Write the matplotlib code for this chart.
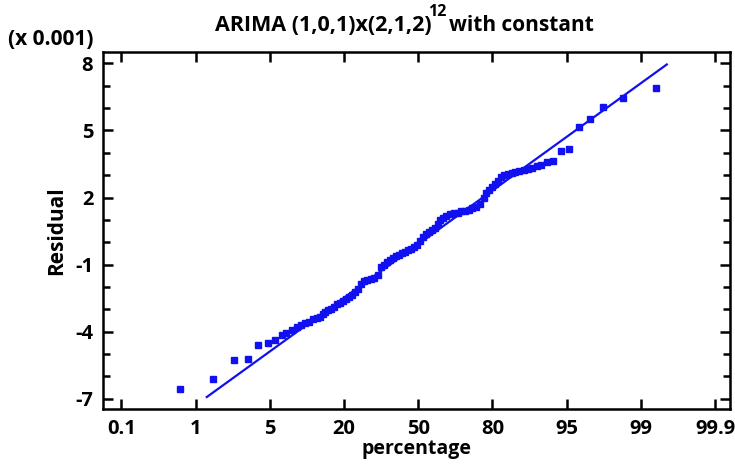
import numpy as np
from matplotlib import pyplot as plt

# x axis: evenly spaced percentage ticks (position = index)
pct_labels = ['0.1', '1', '5', '20', '50', '80', '95', '99', '99.9']

# residual points, x in tick-index units, y in units of 0.001
res_x = [0.79, 1.24, 1.52, 1.70, 1.84, 1.97, 2.07, 2.16, 2.22, 2.30, 2.36, 2.42,
         2.48, 2.53, 2.58, 2.63, 2.67, 2.71, 2.75, 2.79, 2.83, 2.87, 2.91, 2.95,
         2.99, 3.03, 3.07, 3.11, 3.15, 3.19, 3.23, 3.27, 3.31, 3.36, 3.41, 3.46,
         3.50, 3.54, 3.58, 3.62, 3.66, 3.70, 3.74, 3.78, 3.82, 3.86, 3.90, 3.94,
         3.98, 4.02, 4.06, 4.10, 4.14, 4.18, 4.22, 4.26, 4.30, 4.34, 4.38, 4.43,
         4.48, 4.53, 4.58, 4.63, 4.68, 4.73, 4.78, 4.83, 4.88, 4.92, 4.96, 5.00,
         5.04, 5.08, 5.12, 5.16, 5.21, 5.26, 5.31, 5.36, 5.42, 5.48, 5.54, 5.60,
         5.66, 5.74, 5.82, 5.93, 6.03, 6.17, 6.31, 6.49, 6.76, 7.21]
res_y = [-6.58, -6.11, -5.28, -5.20, -4.58, -4.52, -4.37, -4.15, -4.05, -3.90, -3.80, -3.72,
         -3.62, -3.55, -3.45, -3.38, -3.33, -3.22, -3.12, -3.05, -2.98, -2.88, -2.78, -2.70,
         -2.62, -2.55, -2.45, -2.35, -2.22, -2.10, -1.88, -1.72, -1.68, -1.63, -1.58, -1.45,
         -1.12, -1.00, -0.90, -0.80, -0.70, -0.62, -0.55, -0.48, -0.42, -0.36, -0.30, -0.22,
         -0.12, 0.05, 0.22, 0.35, 0.48, 0.56, 0.65, 0.80, 0.98, 1.10, 1.18, 1.25,
         1.30, 1.33, 1.38, 1.42, 1.46, 1.52, 1.58, 1.70, 2.00, 2.20, 2.35, 2.48,
         2.60, 2.75, 2.90, 3.00, 3.05, 3.10, 3.15, 3.18, 3.22, 3.28, 3.33, 3.40,
         3.45, 3.58, 3.62, 4.10, 4.16, 5.17, 5.49, 6.06, 6.47, 6.90]

# reference line end points
line_x = [1.15, 7.35]
line_y = [-6.92, 7.95]

y_ticks = [-7, -4, -1, 2, 5, 8]

plt.rcParams['font.family'] = ['Open Sans', 'DejaVu Sans']
plt.rcParams['font.weight'] = 'bold'
plt.rcParams['axes.unicode_minus'] = False

fig = plt.figure(figsize=(7.35, 4.7), dpi=100)
ax = fig.add_axes([0.140, 0.130, 0.853, 0.759])

blue = '#1010f0'
ax.plot(line_x, line_y, color=blue, lw=1.6)
ax.plot(res_x, res_y, 's', color=blue, ms=4.2, mec=blue)

ax.set_xlim(-0.25, 8.2)
ax.set_ylim(-7.45, 8.5)
ax.set_xticks(range(len(pct_labels)))
ax.set_xticklabels(pct_labels)
ax.set_yticks(y_ticks)
ax.set_yticks(np.arange(-7, 9, 1), minor=True)

ax.tick_params(axis='both', which='both', direction='in', width=1.8,
               labelsize=14.5, top=True, right=True)
ax.tick_params(axis='x', which='minor', top=False, bottom=False)
ax.tick_params(axis='both', which='major', length=7, pad=7)
ax.tick_params(axis='y', which='minor', length=5)
for s in ax.spines.values():
    s.set_linewidth(1.8)

ax.set_xlabel('percentage', fontsize=14, fontweight='bold', labelpad=0)
ax.set_ylabel('Residual', fontsize=15, fontweight='bold', labelpad=6)

# title with a raised "12" exponent
fig.text(0.292, 0.935, 'ARIMA (1,0,1)x(2,1,2)', fontsize=15.5, fontweight='bold')
fig.text(0.583, 0.965, '12', fontsize=11.5, fontweight='bold')
fig.text(0.611, 0.935, 'with constant', fontsize=15, fontweight='bold')
fig.text(0.011, 0.905, '(x 0.001)', fontsize=15, fontweight='bold')

fig.savefig('out.png', dpi=100)
